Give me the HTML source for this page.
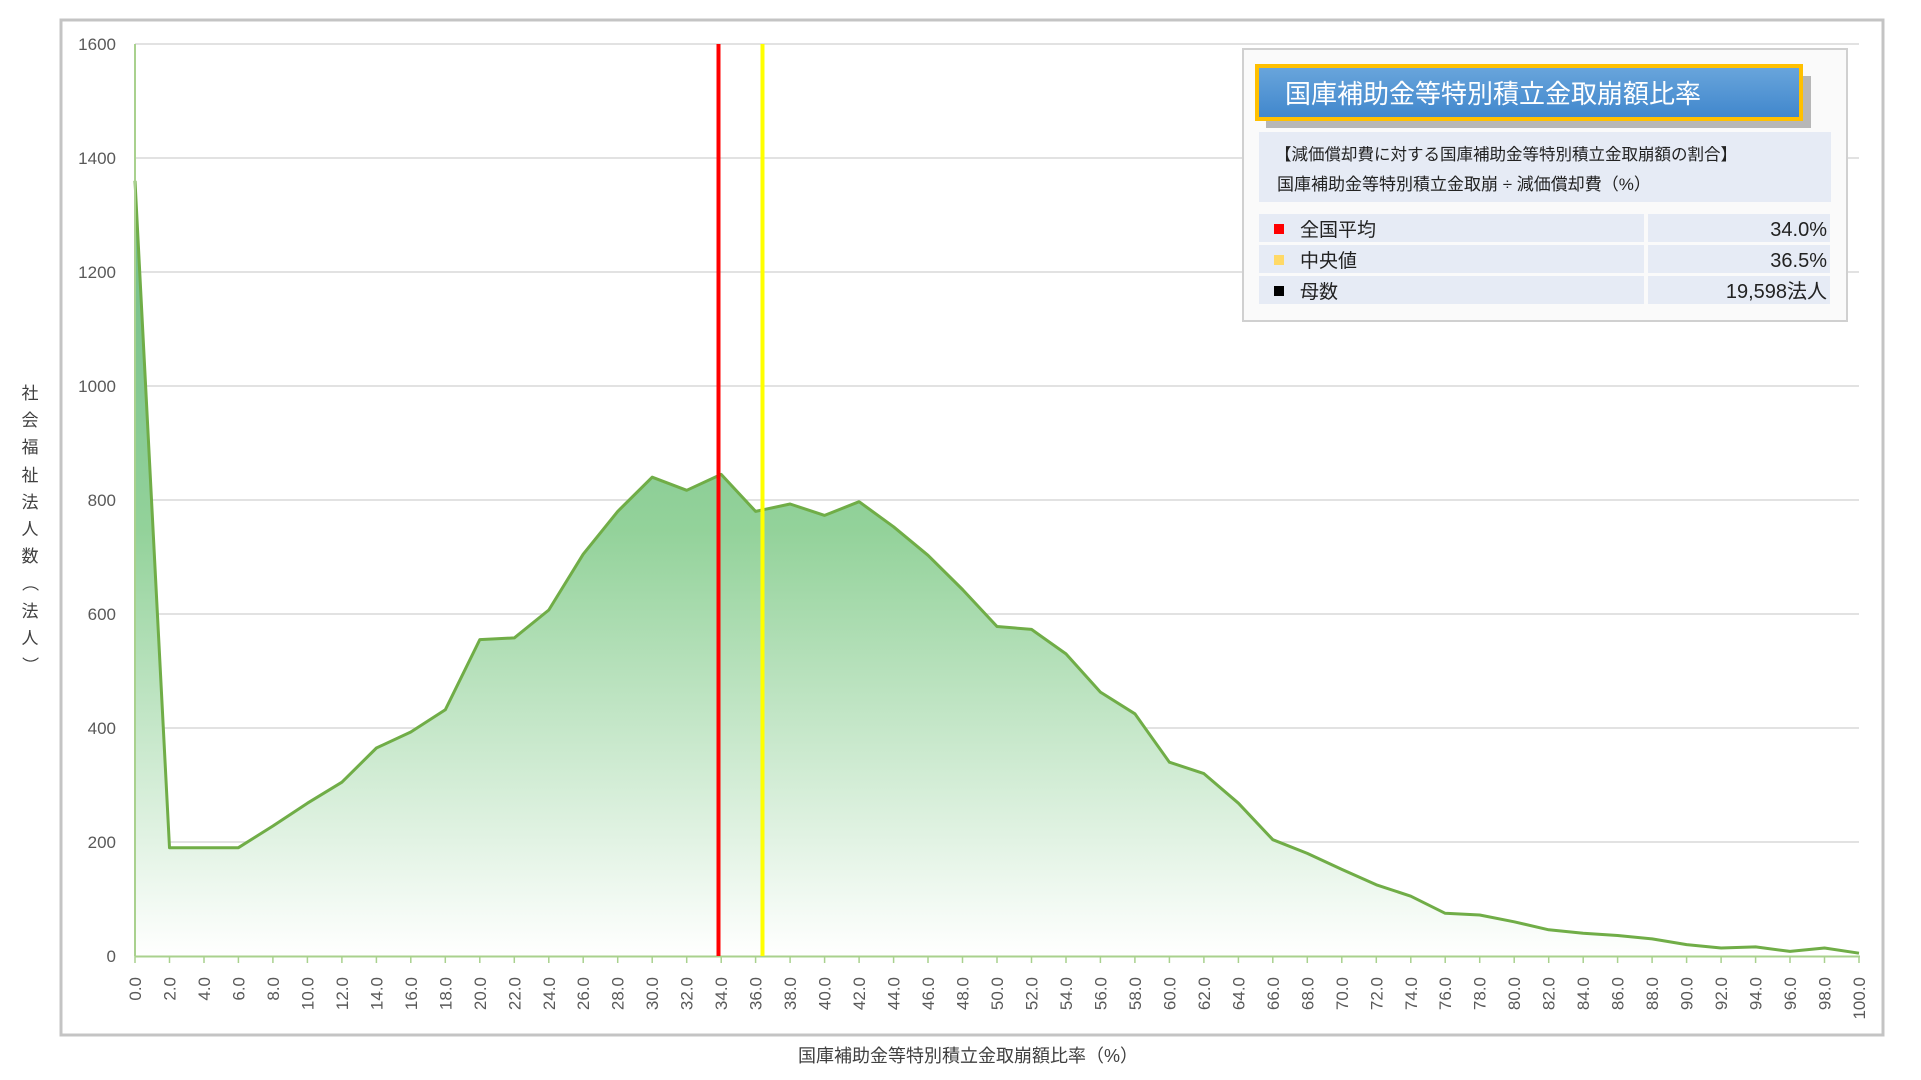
<!DOCTYPE html>
<html><head><meta charset="utf-8"><style>
body{margin:0;width:1921px;height:1080px;background:#fff;overflow:hidden;font-family:"Liberation Sans","Noto Sans CJK JP",sans-serif}
</style></head><body>
<svg width="1921" height="1080" xmlns="http://www.w3.org/2000/svg" style="position:absolute;left:0;top:0;font-family:'Liberation Sans','Noto Sans CJK JP',sans-serif">
<defs>
<linearGradient id="g" x1="0" y1="0" x2="0" y2="1"><stop offset="0" stop-color="#6fba88"/><stop offset="0.45" stop-color="#93d29a"/><stop offset="1" stop-color="#ffffff"/></linearGradient>
<linearGradient id="tb" x1="0" y1="0" x2="0" y2="1"><stop offset="0" stop-color="#6aa6dc"/><stop offset="1" stop-color="#3f86cc"/></linearGradient>
</defs>
<rect x="61" y="20" width="1822" height="1015" fill="none" stroke="#c4c4c4" stroke-width="3"/>
<g stroke="#d9d9d9" stroke-width="1.5">
<line x1="135" y1="44" x2="1859" y2="44"/><line x1="135" y1="158" x2="1859" y2="158"/><line x1="135" y1="272" x2="1859" y2="272"/><line x1="135" y1="386" x2="1859" y2="386"/><line x1="135" y1="500" x2="1859" y2="500"/><line x1="135" y1="614" x2="1859" y2="614"/><line x1="135" y1="728" x2="1859" y2="728"/><line x1="135" y1="842" x2="1859" y2="842"/>
</g>
<g font-size="17" fill="#595959" text-anchor="end">
<text x="116" y="50">1600</text><text x="116" y="164">1400</text><text x="116" y="278">1200</text><text x="116" y="392">1000</text><text x="116" y="506">800</text><text x="116" y="620">600</text><text x="116" y="734">400</text><text x="116" y="848">200</text><text x="116" y="962">0</text>
</g>
<polygon fill="url(#g)" points="135,956 135,180.8 169.5,847.7 204,847.7 238.4,847.7 272.9,826 307.4,803.2 341.9,782.2 376.4,748 410.8,732 445.3,709.8 479.8,639.6 514.3,637.9 548.8,610 583.2,554.2 617.7,511.4 652.2,477.2 686.7,490.3 721.2,474.4 755.6,511.4 790.1,504 824.6,515.4 859.1,501.7 893.6,526.8 928,555.3 962.5,589.5 997,626.5 1031.5,629.4 1066,653.9 1100.4,692.1 1134.9,713.8 1169.4,762.2 1203.9,773.6 1238.4,803.2 1272.8,839.7 1307.3,853.4 1341.8,869.4 1376.3,884.8 1410.8,896.2 1445.2,913.3 1479.7,915 1514.2,921.8 1548.7,929.8 1583.2,933.2 1617.6,935.5 1652.1,938.9 1686.6,944.6 1721.1,948 1755.6,946.9 1790,951.4 1824.5,948 1859,953.2 1859,956"/>
<polyline fill="none" stroke="#70ad47" stroke-width="3" stroke-linejoin="round" points="135,180.8 169.5,847.7 204,847.7 238.4,847.7 272.9,826 307.4,803.2 341.9,782.2 376.4,748 410.8,732 445.3,709.8 479.8,639.6 514.3,637.9 548.8,610 583.2,554.2 617.7,511.4 652.2,477.2 686.7,490.3 721.2,474.4 755.6,511.4 790.1,504 824.6,515.4 859.1,501.7 893.6,526.8 928,555.3 962.5,589.5 997,626.5 1031.5,629.4 1066,653.9 1100.4,692.1 1134.9,713.8 1169.4,762.2 1203.9,773.6 1238.4,803.2 1272.8,839.7 1307.3,853.4 1341.8,869.4 1376.3,884.8 1410.8,896.2 1445.2,913.3 1479.7,915 1514.2,921.8 1548.7,929.8 1583.2,933.2 1617.6,935.5 1652.1,938.9 1686.6,944.6 1721.1,948 1755.6,946.9 1790,951.4 1824.5,948 1859,953.2"/>
<line x1="135" y1="44" x2="135" y2="956" stroke="#a9d18e" stroke-width="2"/>
<line x1="135" y1="956.5" x2="1860" y2="956.5" stroke="#a9d18e" stroke-width="2"/>
<line x1="718.5" y1="44" x2="718.5" y2="956" stroke="#ff0000" stroke-width="4"/>
<line x1="762.5" y1="44" x2="762.5" y2="956" stroke="#ffff00" stroke-width="4"/>
<g stroke="#a9d18e" stroke-width="1.5">
<line x1="135" y1="956" x2="135" y2="963"/><line x1="169.5" y1="956" x2="169.5" y2="963"/><line x1="204" y1="956" x2="204" y2="963"/><line x1="238.4" y1="956" x2="238.4" y2="963"/><line x1="272.9" y1="956" x2="272.9" y2="963"/><line x1="307.4" y1="956" x2="307.4" y2="963"/><line x1="341.9" y1="956" x2="341.9" y2="963"/><line x1="376.4" y1="956" x2="376.4" y2="963"/><line x1="410.8" y1="956" x2="410.8" y2="963"/><line x1="445.3" y1="956" x2="445.3" y2="963"/><line x1="479.8" y1="956" x2="479.8" y2="963"/><line x1="514.3" y1="956" x2="514.3" y2="963"/><line x1="548.8" y1="956" x2="548.8" y2="963"/><line x1="583.2" y1="956" x2="583.2" y2="963"/><line x1="617.7" y1="956" x2="617.7" y2="963"/><line x1="652.2" y1="956" x2="652.2" y2="963"/><line x1="686.7" y1="956" x2="686.7" y2="963"/><line x1="721.2" y1="956" x2="721.2" y2="963"/><line x1="755.6" y1="956" x2="755.6" y2="963"/><line x1="790.1" y1="956" x2="790.1" y2="963"/><line x1="824.6" y1="956" x2="824.6" y2="963"/><line x1="859.1" y1="956" x2="859.1" y2="963"/><line x1="893.6" y1="956" x2="893.6" y2="963"/><line x1="928" y1="956" x2="928" y2="963"/><line x1="962.5" y1="956" x2="962.5" y2="963"/><line x1="997" y1="956" x2="997" y2="963"/><line x1="1031.5" y1="956" x2="1031.5" y2="963"/><line x1="1066" y1="956" x2="1066" y2="963"/><line x1="1100.4" y1="956" x2="1100.4" y2="963"/><line x1="1134.9" y1="956" x2="1134.9" y2="963"/><line x1="1169.4" y1="956" x2="1169.4" y2="963"/><line x1="1203.9" y1="956" x2="1203.9" y2="963"/><line x1="1238.4" y1="956" x2="1238.4" y2="963"/><line x1="1272.8" y1="956" x2="1272.8" y2="963"/><line x1="1307.3" y1="956" x2="1307.3" y2="963"/><line x1="1341.8" y1="956" x2="1341.8" y2="963"/><line x1="1376.3" y1="956" x2="1376.3" y2="963"/><line x1="1410.8" y1="956" x2="1410.8" y2="963"/><line x1="1445.2" y1="956" x2="1445.2" y2="963"/><line x1="1479.7" y1="956" x2="1479.7" y2="963"/><line x1="1514.2" y1="956" x2="1514.2" y2="963"/><line x1="1548.7" y1="956" x2="1548.7" y2="963"/><line x1="1583.2" y1="956" x2="1583.2" y2="963"/><line x1="1617.6" y1="956" x2="1617.6" y2="963"/><line x1="1652.1" y1="956" x2="1652.1" y2="963"/><line x1="1686.6" y1="956" x2="1686.6" y2="963"/><line x1="1721.1" y1="956" x2="1721.1" y2="963"/><line x1="1755.6" y1="956" x2="1755.6" y2="963"/><line x1="1790" y1="956" x2="1790" y2="963"/><line x1="1824.5" y1="956" x2="1824.5" y2="963"/><line x1="1859" y1="956" x2="1859" y2="963"/>
</g>
<g font-size="17" fill="#595959" text-anchor="end">
<text transform="translate(141,977) rotate(-90)">0.0</text><text transform="translate(175.5,977) rotate(-90)">2.0</text><text transform="translate(210,977) rotate(-90)">4.0</text><text transform="translate(244.4,977) rotate(-90)">6.0</text><text transform="translate(278.9,977) rotate(-90)">8.0</text><text transform="translate(313.4,977) rotate(-90)">10.0</text><text transform="translate(347.9,977) rotate(-90)">12.0</text><text transform="translate(382.4,977) rotate(-90)">14.0</text><text transform="translate(416.8,977) rotate(-90)">16.0</text><text transform="translate(451.3,977) rotate(-90)">18.0</text><text transform="translate(485.8,977) rotate(-90)">20.0</text><text transform="translate(520.3,977) rotate(-90)">22.0</text><text transform="translate(554.8,977) rotate(-90)">24.0</text><text transform="translate(589.2,977) rotate(-90)">26.0</text><text transform="translate(623.7,977) rotate(-90)">28.0</text><text transform="translate(658.2,977) rotate(-90)">30.0</text><text transform="translate(692.7,977) rotate(-90)">32.0</text><text transform="translate(727.2,977) rotate(-90)">34.0</text><text transform="translate(761.6,977) rotate(-90)">36.0</text><text transform="translate(796.1,977) rotate(-90)">38.0</text><text transform="translate(830.6,977) rotate(-90)">40.0</text><text transform="translate(865.1,977) rotate(-90)">42.0</text><text transform="translate(899.6,977) rotate(-90)">44.0</text><text transform="translate(934,977) rotate(-90)">46.0</text><text transform="translate(968.5,977) rotate(-90)">48.0</text><text transform="translate(1003,977) rotate(-90)">50.0</text><text transform="translate(1037.5,977) rotate(-90)">52.0</text><text transform="translate(1072,977) rotate(-90)">54.0</text><text transform="translate(1106.4,977) rotate(-90)">56.0</text><text transform="translate(1140.9,977) rotate(-90)">58.0</text><text transform="translate(1175.4,977) rotate(-90)">60.0</text><text transform="translate(1209.9,977) rotate(-90)">62.0</text><text transform="translate(1244.4,977) rotate(-90)">64.0</text><text transform="translate(1278.8,977) rotate(-90)">66.0</text><text transform="translate(1313.3,977) rotate(-90)">68.0</text><text transform="translate(1347.8,977) rotate(-90)">70.0</text><text transform="translate(1382.3,977) rotate(-90)">72.0</text><text transform="translate(1416.8,977) rotate(-90)">74.0</text><text transform="translate(1451.2,977) rotate(-90)">76.0</text><text transform="translate(1485.7,977) rotate(-90)">78.0</text><text transform="translate(1520.2,977) rotate(-90)">80.0</text><text transform="translate(1554.7,977) rotate(-90)">82.0</text><text transform="translate(1589.2,977) rotate(-90)">84.0</text><text transform="translate(1623.6,977) rotate(-90)">86.0</text><text transform="translate(1658.1,977) rotate(-90)">88.0</text><text transform="translate(1692.6,977) rotate(-90)">90.0</text><text transform="translate(1727.1,977) rotate(-90)">92.0</text><text transform="translate(1761.6,977) rotate(-90)">94.0</text><text transform="translate(1796,977) rotate(-90)">96.0</text><text transform="translate(1830.5,977) rotate(-90)">98.0</text><text transform="translate(1865,977) rotate(-90)">100.0</text>
</g>
<g font-size="17" fill="#404040" text-anchor="middle">
<text x="30" y="399">社</text><text x="30" y="426">会</text><text x="30" y="453">福</text><text x="30" y="481">祉</text><text x="30" y="508">法</text><text x="30" y="535">人</text><text x="30" y="562">数</text><text x="30" y="589" transform="rotate(90 30 583)">（</text><text x="30" y="617">法</text><text x="30" y="644">人</text><text x="30" y="671" transform="rotate(90 30 665)">）</text>
</g>
<text x="968" y="1062" font-size="18" fill="#404040" text-anchor="middle">国庫補助金等特別積立金取崩額比率（%）</text>
<rect x="1243" y="49" width="604" height="272" fill="#fafafa" stroke="#d0d0d0" stroke-width="2"/>
<rect x="1266" y="76" width="545" height="52" fill="#8a8a8a" opacity="0.6"/>
<rect x="1257" y="66" width="544" height="53" fill="url(#tb)" stroke="#ffc000" stroke-width="4"/>
<text x="1285" y="103" font-size="26" fill="#fff">国庫補助金等特別積立金取崩額比率</text>
<rect x="1259" y="132" width="572" height="70" fill="#e6ebf5"/>
<text x="1275" y="160" font-size="16.5" fill="#222">【減価償却費に対する国庫補助金等特別積立金取崩額の割合】</text>
<text x="1277" y="190" font-size="17" fill="#222">国庫補助金等特別積立金取崩 ÷ 減価償却費（%）</text>
<rect x="1259" y="214" width="385" height="28" fill="#e6ebf5"/><rect x="1648" y="214" width="182" height="28" fill="#e6ebf5"/>
<rect x="1259" y="245" width="385" height="28" fill="#e6ebf5"/><rect x="1648" y="245" width="182" height="28" fill="#e6ebf5"/>
<rect x="1259" y="276" width="385" height="28" fill="#e6ebf5"/><rect x="1648" y="276" width="182" height="28" fill="#e6ebf5"/>
<rect x="1274" y="224" width="10" height="10" fill="#ff0000"/>
<rect x="1274" y="255" width="10" height="10" fill="#ffd966"/>
<rect x="1274" y="286" width="10" height="10" fill="#000"/>
<g font-size="19" fill="#222">
<text x="1300" y="236">全国平均</text><text x="1300" y="267">中央値</text><text x="1300" y="298">母数</text>
</g>
<g font-size="20" fill="#222" text-anchor="end">
<text x="1827" y="236">34.0%</text><text x="1827" y="267">36.5%</text><text x="1827" y="298">19,598法人</text>
</g>
</svg>
</body></html>
